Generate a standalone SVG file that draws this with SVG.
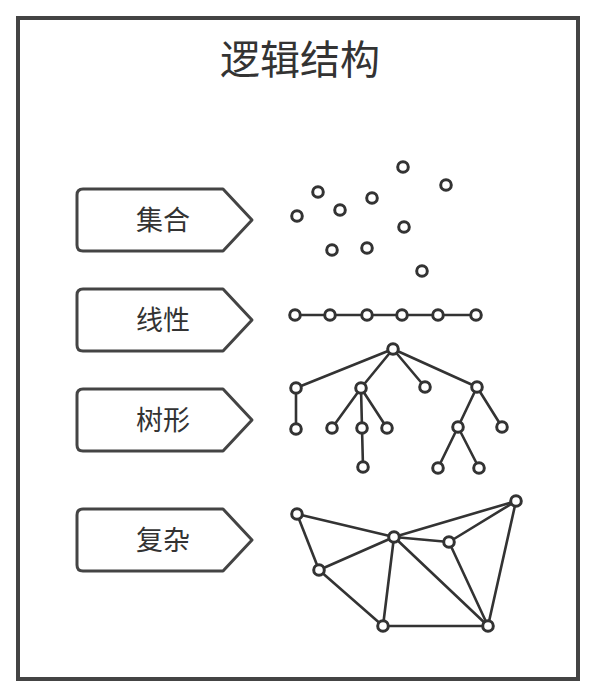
<svg xmlns="http://www.w3.org/2000/svg" width="600" height="698" viewBox="0 0 600 698">
<style>
.frame{fill:#fff;stroke:#444;stroke-width:4}
.title{font-family:"Noto Sans CJK SC","Noto Sans",sans-serif;font-size:40px;fill:#333;text-anchor:middle}
.tag{fill:#fff;stroke:#444;stroke-width:3;stroke-linejoin:round}
.lbl{font-family:"Noto Sans CJK SC","Noto Sans",sans-serif;font-size:27px;fill:#333;text-anchor:middle}
.n{fill:#fff;stroke:#333;stroke-width:3}
.e{stroke:#333;stroke-width:2.6;fill:none;stroke-linecap:round}
</style>
<defs>
<path id="tagshape" d="M83,0 H223 L252,31 L223,62 H83 Q77,62 77,56 V6 Q77,0 83,0 Z"/>
</defs>
<rect class="frame" x="18" y="18" width="560" height="661"/>
<text class="title" x="300" y="74">逻辑结构</text>

<g id="label-set"><use href="#tagshape" class="tag" y="189"/><text class="lbl" x="163" y="230">集合</text></g>
<g id="label-linear"><use href="#tagshape" class="tag" y="289"/><text class="lbl" x="163" y="330">线性</text></g>
<g id="label-tree"><use href="#tagshape" class="tag" y="389"/><text class="lbl" x="163" y="430">树形</text></g>
<g id="label-complex"><use href="#tagshape" class="tag" y="509"/><text class="lbl" x="163" y="550">复杂</text></g>

<g id="connectors">
<line class="e" x1="295" y1="315" x2="476" y2="315"/>
<line class="e" x1="393" y1="349" x2="296" y2="388"/>
<line class="e" x1="393" y1="349" x2="361" y2="388"/>
<line class="e" x1="393" y1="349" x2="425" y2="387"/>
<line class="e" x1="393" y1="349" x2="477" y2="387"/>
<line class="e" x1="296" y1="388" x2="296" y2="429"/>
<line class="e" x1="361" y1="388" x2="332" y2="428"/>
<line class="e" x1="361" y1="388" x2="362" y2="428"/>
<line class="e" x1="361" y1="388" x2="387" y2="428"/>
<line class="e" x1="362" y1="428" x2="363" y2="467"/>
<line class="e" x1="477" y1="387" x2="458" y2="427"/>
<line class="e" x1="477" y1="387" x2="502" y2="427"/>
<line class="e" x1="458" y1="427" x2="438" y2="468"/>
<line class="e" x1="458" y1="427" x2="479" y2="468"/>
<line class="e" x1="297" y1="514" x2="394" y2="537"/>
<line class="e" x1="297" y1="514" x2="319" y2="570"/>
<line class="e" x1="394" y1="537" x2="516" y2="501"/>
<line class="e" x1="394" y1="537" x2="449" y2="542"/>
<line class="e" x1="449" y1="542" x2="516" y2="501"/>
<line class="e" x1="394" y1="537" x2="319" y2="570"/>
<line class="e" x1="394" y1="537" x2="383" y2="626"/>
<line class="e" x1="394" y1="537" x2="488" y2="626"/>
<line class="e" x1="449" y1="542" x2="488" y2="626"/>
<line class="e" x1="516" y1="501" x2="488" y2="626"/>
<line class="e" x1="319" y1="570" x2="383" y2="626"/>
<line class="e" x1="383" y1="626" x2="488" y2="626"/>
</g>

<g id="set-nodes">
<circle class="n" cx="403" cy="167" r="5.3"/>
<circle class="n" cx="446" cy="185" r="5.3"/>
<circle class="n" cx="318" cy="192" r="5.3"/>
<circle class="n" cx="372" cy="198" r="5.3"/>
<circle class="n" cx="297" cy="216" r="5.3"/>
<circle class="n" cx="340" cy="210" r="5.3"/>
<circle class="n" cx="404" cy="227" r="5.3"/>
<circle class="n" cx="332" cy="250" r="5.3"/>
<circle class="n" cx="367" cy="248" r="5.3"/>
<circle class="n" cx="422" cy="271" r="5.3"/>
</g>
<g id="linear-nodes">
<circle class="n" cx="295" cy="315" r="5.3"/>
<circle class="n" cx="330" cy="315" r="5.3"/>
<circle class="n" cx="367" cy="315" r="5.3"/>
<circle class="n" cx="402" cy="315" r="5.3"/>
<circle class="n" cx="438" cy="315" r="5.3"/>
<circle class="n" cx="476" cy="315" r="5.3"/>
</g>
<g id="tree-nodes">
<circle class="n" cx="393" cy="349" r="5.3"/>
<circle class="n" cx="296" cy="388" r="5.3"/>
<circle class="n" cx="361" cy="388" r="5.3"/>
<circle class="n" cx="425" cy="387" r="5.3"/>
<circle class="n" cx="477" cy="387" r="5.3"/>
<circle class="n" cx="296" cy="429" r="5.3"/>
<circle class="n" cx="332" cy="428" r="5.3"/>
<circle class="n" cx="362" cy="428" r="5.3"/>
<circle class="n" cx="387" cy="428" r="5.3"/>
<circle class="n" cx="458" cy="427" r="5.3"/>
<circle class="n" cx="502" cy="427" r="5.3"/>
<circle class="n" cx="363" cy="467" r="5.3"/>
<circle class="n" cx="438" cy="468" r="5.3"/>
<circle class="n" cx="479" cy="468" r="5.3"/>
</g>
<g id="complex-nodes">
<circle class="n" cx="297" cy="514" r="5.3"/>
<circle class="n" cx="516" cy="501" r="5.3"/>
<circle class="n" cx="394" cy="537" r="5.3"/>
<circle class="n" cx="449" cy="542" r="5.3"/>
<circle class="n" cx="319" cy="570" r="5.3"/>
<circle class="n" cx="383" cy="626" r="5.3"/>
<circle class="n" cx="488" cy="626" r="5.3"/>
</g>
</svg>
